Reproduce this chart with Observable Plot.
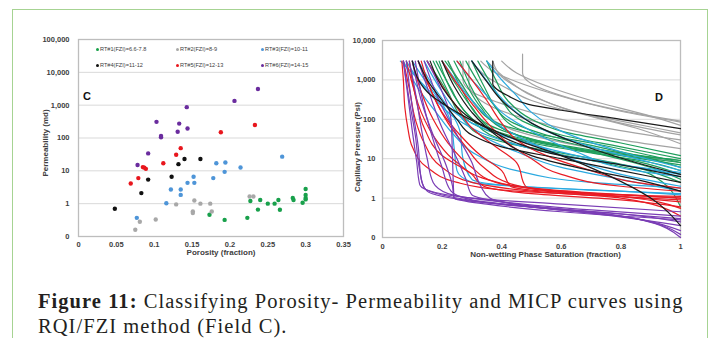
<!DOCTYPE html>
<html><head><meta charset="utf-8">
<script src="https://cdn.jsdelivr.net/npm/d3@7"></script>
<script src="https://cdn.jsdelivr.net/npm/@observablehq/plot@0.6"></script>
<style>
html,body{margin:0;padding:0;background:#fff;}
#wrap{position:relative;width:715px;height:338px;overflow:hidden;font-family:"Liberation Sans",Arial,sans-serif;}
#border{position:absolute;left:12px;top:9px;width:696px;height:400px;border:1.5px solid #a6d392;box-sizing:border-box;}
#left{position:absolute;left:0;top:0;}
#right{position:absolute;left:345px;top:0;}
.legend{position:absolute;left:96px;top:46px;display:grid;grid-template-columns:80px 85px 80px;row-gap:9px;font-size:5.6px;line-height:7px;color:#404040;white-space:nowrap;}
.legend .dot{display:inline-block;width:3px;height:3px;border-radius:50%;margin-right:1px;vertical-align:0.5px;}
.panel{position:absolute;font-weight:bold;font-size:11px;line-height:11px;color:#111;}
#caption{position:absolute;left:38px;top:289px;width:690px;font-family:"Liberation Serif","Times New Roman",serif;font-size:20.5px;line-height:25px;letter-spacing:1.05px;color:#231f20;white-space:nowrap;}
</style></head>
<body>
<div id="wrap">
  <div id="border"></div>
  <div id="left"></div>
  <div id="right"></div>
  <div class="legend" id="legend"></div>
  <div class="panel" style="left:83px;top:91px;">C</div>
  <div class="panel" style="left:655px;top:92px;">D</div>
  <div id="caption"><b>Figure 11:</b> Classifying Porosity- Permeability and MICP curves using<br>RQI/FZI method (Field C).</div>
</div>
<script>
// ---------- Categories / legend ----------
const rockTypes = ["RT1", "RT2", "RT3", "RT4", "RT5", "RT6"];
const legendLabels = ["RT#1(FZI)=6.6-7.8", "RT#2(FZI)=8-9", "RT#3(FZI)=10-11", "RT#4(FZI)=11-12", "RT#5(FZI)=12-13", "RT#6(FZI)=14-15"];
const dotColors = ["#18a04b", "#a8a8a8", "#4e95d8", "#111111", "#e8161d", "#6a2c9e"];
const lineColors = ["#1f9e5c", "#a3a3a3", "#2aa9e0", "#1a1a1a", "#e81c24", "#7a3db5"];

// ---------- Panel C: porosity (fraction), permeability (md) ----------
const rt1Points = [[0.300,2.8],[0.300,1.85],[0.300,1.5],[0.300,1.35],[0.296,1.07],[0.283,1.5],[0.284,1.3],[0.264,1.3],[0.259,1.0],[0.250,1.0],[0.266,0.65],[0.240,1.3],[0.237,0.66],[0.227,1.2],[0.223,0.37],[0.193,0.32],[0.173,0.46]];
const rt2Points = [[0.226,1.65],[0.231,1.65],[0.153,1.25],[0.129,0.95],[0.161,1.0],[0.174,1.0],[0.176,0.58],[0.151,0.58],[0.151,0.52],[0.102,0.33],[0.081,0.28],[0.075,0.16]];
const rt3Points = [[0.269,27],[0.182,17],[0.194,18],[0.214,12.6],[0.193,9.3],[0.178,6.0],[0.152,6.6],[0.144,4.3],[0.153,4.3],[0.122,2.7],[0.135,2.7],[0.135,1.85],[0.116,1.03],[0.077,0.37]];
const rt4Points = [[0.140,23],[0.161,23],[0.132,16],[0.123,6.6],[0.092,5.4],[0.083,2.1],[0.048,0.70]];
const rt5Points = [[0.233,250],[0.188,150],[0.135,49],[0.129,31],[0.112,17],[0.085,13],[0.087,12.5],[0.089,11.5],[0.079,6.0],[0.069,4.1]];
const rt6Points = [[0.237,3100],[0.206,1350],[0.143,870],[0.103,310],[0.133,275],[0.131,155],[0.144,195],[0.109,115],[0.109,105],[0.092,34],[0.078,15]];

const porTicks = [0, 0.05, 0.1, 0.15, 0.2, 0.25, 0.3, 0.35];
const porTickLabels = ["0", "0.05", "0.1", "0.15", "0.2", "0.25", "0.3", "0.35"];
const permTicks = [0.1, 1, 10, 100, 1000, 10000, 100000];
const permTickLabels = ["0", "1", "10", "100", "1,000", "10,000", "100,000"];

// ---------- Panel D: MICP curves [Sw non-wetting, Pc psi] ----------
const rt2Curves = [
  [[0.33,3000],[0.38,1500],[0.45,900],[0.55,500],[0.65,300],[0.8,160],[1,85]],
  [[0.30,3000],[0.35,1200],[0.42,600],[0.5,300],[0.6,180],[0.8,90],[1,45]],
  [[0.47,4500],[0.47,1500],[0.5,800],[0.6,400],[0.75,200],[0.9,120],[1,90]],
  [[0.27,3000],[0.27,1000],[0.3,500],[0.4,250],[0.55,120],[0.75,60],[1,30]],
  [[0.37,3000],[0.4,1200],[0.48,500],[0.6,200],[0.8,80],[1,40]],
  [[0.29,3000],[0.29,800],[0.33,300],[0.45,120],[0.6,60],[0.8,30],[1,18]],
  [[0.35,3000],[0.42,1000],[0.5,400],[0.65,150],[0.85,60],[1,24]],
  [[0.40,3000],[0.45,1500],[0.55,700],[0.7,300],[0.9,120],[1,70]],
  [[0.22,3000],[0.28,500],[0.35,120],[0.45,50],[0.65,22],[0.85,12],[1,8]]
];
const rt1Curves = [
  [[0.15,3000],[0.2,800],[0.25,200],[0.3,80],[0.4,40],[0.6,20],[0.8,12],[1,7]],
  [[0.18,3000],[0.23,600],[0.28,150],[0.35,60],[0.45,35],[0.65,18],[0.85,11],[1,8]],
  [[0.20,3000],[0.25,700],[0.3,200],[0.36,70],[0.45,40],[0.6,22],[0.8,13],[1,9]],
  [[0.22,3000],[0.27,500],[0.32,120],[0.38,50],[0.5,25],[0.7,14],[0.9,8],[1,5]],
  [[0.24,3000],[0.28,800],[0.33,200],[0.4,60],[0.5,30],[0.7,15],[0.9,7],[1,4]],
  [[0.26,3000],[0.3,600],[0.35,150],[0.42,50],[0.55,25],[0.75,12],[0.9,6],[1,3]],
  [[0.28,3000],[0.32,900],[0.37,250],[0.44,80],[0.55,40],[0.75,18],[0.9,10],[1,6]],
  [[0.17,3000],[0.22,500],[0.27,100],[0.33,40],[0.45,22],[0.65,12],[0.85,6],[1,2.5]],
  [[0.30,3000],[0.34,700],[0.38,200],[0.45,60],[0.6,28],[0.8,14],[1,9]],
  [[0.32,3000],[0.36,900],[0.4,300],[0.47,90],[0.6,40],[0.8,20],[1,10]],
  [[0.21,3000],[0.26,900],[0.31,250],[0.37,90],[0.5,45],[0.7,25],[0.9,12],[1,8]],
  [[0.19,3000],[0.24,400],[0.3,100],[0.38,35],[0.5,18],[0.7,9],[0.9,4],[1,0.6]],
  [[0.35,3000],[0.38,1000],[0.42,300],[0.5,100],[0.6,50],[0.8,25],[1,12]]
];
const rt3Curves = [
  [[0.06,3000],[0.1,1500],[0.15,600],[0.22,200],[0.3,80],[0.45,30],[0.65,12],[0.85,6],[1,4]],
  [[0.08,3000],[0.12,1000],[0.18,300],[0.25,100],[0.35,40],[0.5,18],[0.7,9],[1,4.5]],
  [[0.10,3000],[0.15,800],[0.2,250],[0.23,80],[0.24,20],[0.25,5],[0.3,2.5],[0.5,1.9],[0.8,1.5],[1,1.2]],
  [[0.12,3000],[0.17,700],[0.22,200],[0.26,50],[0.27,10],[0.3,3],[0.45,2],[0.7,1.6],[1,1.3]],
  [[0.20,3000],[0.25,900],[0.3,300],[0.38,80],[0.5,25],[0.65,9],[0.8,4],[1,2]],
  [[0.25,3000],[0.3,1000],[0.35,400],[0.4,150],[0.5,50],[0.65,15],[0.85,5],[1,3.5]],
  [[0.14,3000],[0.2,500],[0.26,120],[0.33,40],[0.45,15],[0.6,6],[0.8,3],[1,1.5]],
  [[0.30,3000],[0.33,1500],[0.38,500],[0.45,150],[0.55,50],[0.7,20],[0.9,8],[1,5]],
  [[0.07,3000],[0.12,600],[0.18,150],[0.24,40],[0.32,12],[0.45,5],[0.7,2.5],[1,1.8]],
  [[0.35,3000],[0.4,1000],[0.45,400],[0.5,150],[0.6,50],[0.8,15],[1,6]]
];
const rt5Curves = [
  [[0.065,3000],[0.07,1000],[0.075,200],[0.085,60],[0.1,20],[0.15,6],[0.25,2.5],[0.45,1.5],[0.7,1.2],[1,0.9]],
  [[0.08,3000],[0.1,800],[0.13,150],[0.18,30],[0.25,8],[0.35,3],[0.5,1.8],[0.75,1.3],[1,1.0]],
  [[0.10,3000],[0.13,500],[0.17,100],[0.22,25],[0.3,6],[0.38,2.5],[0.55,1.6],[0.8,1.1],[1,0.8]],
  [[0.12,3000],[0.16,600],[0.2,150],[0.26,40],[0.33,12],[0.4,5],[0.43,2],[0.5,1.6],[0.75,1.2],[1,0.55]],
  [[0.15,3000],[0.2,700],[0.25,200],[0.3,60],[0.38,20],[0.45,8],[0.48,2],[0.6,1.5],[1,1.0]],
  [[0.20,3000],[0.25,800],[0.3,250],[0.36,70],[0.42,25],[0.5,10],[0.6,4],[0.8,2],[1,1.5]],
  [[0.09,3000],[0.11,400],[0.14,60],[0.2,12],[0.3,4],[0.34,2],[0.5,1.3],[0.8,0.9],[1,0.6]],
  [[0.25,3000],[0.3,1000],[0.35,300],[0.4,80],[0.45,30],[0.55,12],[0.7,5],[0.85,2.5],[1,1.8]],
  [[0.07,3000],[0.09,600],[0.11,100],[0.14,25],[0.2,6],[0.3,2.5],[0.5,1.5],[0.8,1.0],[1,0.35]],
  [[0.13,3000],[0.17,400],[0.22,80],[0.28,20],[0.34,6],[0.44,2.2],[0.6,1.4],[1,1.1]]
];
const rt6Curves = [
  [[0.07,3000],[0.09,300],[0.11,40],[0.125,5],[0.14,1.8],[0.2,1.2],[0.4,0.7],[0.7,0.45],[1,0.3]],
  [[0.08,3000],[0.10,200],[0.12,20],[0.13,3],[0.15,1.5],[0.25,0.95],[0.5,0.6],[0.8,0.4],[1,0.25]],
  [[0.09,3000],[0.11,500],[0.13,60],[0.15,10],[0.17,2.5],[0.22,1.3],[0.4,0.8],[0.7,0.5],[1,0.35]],
  [[0.10,3000],[0.13,300],[0.17,40],[0.21,8],[0.235,2],[0.24,1.0],[0.35,0.75],[0.6,0.5],[1,0.2]],
  [[0.12,3000],[0.16,400],[0.2,60],[0.25,10],[0.28,3],[0.3,1.2],[0.45,0.7],[0.75,0.4],[1,0.15]],
  [[0.14,3000],[0.19,300],[0.25,40],[0.3,8],[0.33,2],[0.36,1],[0.5,0.6],[0.8,0.35],[1,0.12]],
  [[0.07,3000],[0.085,400],[0.1,50],[0.115,8],[0.125,2.2],[0.15,1.6],[0.3,1.0],[0.6,0.7],[1,0.45]],
  [[0.11,3000],[0.14,200],[0.17,30],[0.2,6],[0.23,1.5],[0.3,0.9],[0.55,0.55],[0.85,0.3],[1,0.1]],
  [[0.15,3000],[0.2,500],[0.23,100],[0.235,10],[0.24,1.0],[0.35,0.7],[0.6,0.45],[1,0.28]]
];
const rt4Curves = [
  [[0.37,3000],[0.37,800],[0.42,400],[0.49,240],[0.6,170],[0.8,100],[1,58]],
  [[0.10,3000],[0.15,500],[0.25,150],[0.35,60],[0.45,25],[0.6,12],[0.8,7],[1,3.5]],
  [[0.20,3000],[0.24,700],[0.3,150],[0.38,40],[0.5,12],[0.7,5],[0.85,3],[1,1.5]],
  [[0.30,3000],[0.35,900],[0.4,300],[0.5,80],[0.65,25],[0.85,8],[1,4]],
  [[0.16,3000],[0.22,400],[0.3,100],[0.45,30],[0.6,12],[0.75,4],[0.9,1],[1,0.2]],
  [[0.12,3000],[0.15,1000],[0.2,300],[0.25,100],[0.3,40],[0.4,20],[0.6,10],[0.8,5],[1,2.5]]
];

const satTicks = [0, 0.2, 0.4, 0.6, 0.8, 1];
const satTickLabels = ["0", "0.2", "0.4", "0.6", "0.8", "1"];
const pcTicks = [0.1, 1, 10, 100, 1000, 10000];
const pcTickLabels = ["0", "1", "10", "100", "1,000", "10,000"];

// ---------- Build tables ----------
const pointSets = [rt1Points, rt2Points, rt3Points, rt4Points, rt5Points, rt6Points];
const scatter = pointSets.flatMap((pts, k) => pts.map(([por, perm]) => ({rt: rockTypes[k], por, perm, color: dotColors[k]})));

const curveOrder = [[1, rt2Curves], [0, rt1Curves], [2, rt3Curves], [4, rt5Curves], [5, rt6Curves], [3, rt4Curves]];
const curves = curveOrder.flatMap(([k, set]) => set.flatMap((c, j) => c.map(([sw, pc]) => ({id: rockTypes[k] + "-" + j, sw, pc, color: lineColors[k]}))));

const axisStyle = {fontSize: "7.5px", fontFamily: "Liberation Sans, Arial, sans-serif", fontWeight: "bold", color: "#404040", background: "transparent", overflow: "visible"};
const lab = (ticks, labels) => d => labels[ticks.findIndex(t => Math.abs(t - d) < 1e-9)];

const left = Plot.plot({
  width: 350, height: 266,
  marginLeft: 78, marginRight: 7, marginTop: 39, marginBottom: 30,
  style: axisStyle,
  color: {type: "identity"},
  x: {domain: [0, 0.35]},
  y: {type: "log", domain: [0.1, 100000]},
  marks: [
    Plot.ruleY(permTicks, {stroke: "#d9d9d9", strokeWidth: 1}),
    Plot.frame({stroke: "#bdbdbd", strokeWidth: 1.3}),
    Plot.axisX({ticks: porTicks, tickFormat: lab(porTicks, porTickLabels), tickSize: 0, tickPadding: 5, label: null}),
    Plot.axisY({ticks: permTicks, tickFormat: lab(permTicks, permTickLabels), tickSize: 0, tickPadding: 9, label: null}),
    Plot.dot(scatter, {x: "por", y: "perm", fill: "color", r: 2.2, stroke: null}),
    Plot.text(["Porosity (fraction)"], {text: d => d, frameAnchor: "bottom", textAnchor: "middle", dy: 18, dx: 10, fontSize: 8, fontWeight: "bold", fill: "#404040"}),
    Plot.text(["Permeability (md)"], {text: d => d, frameAnchor: "left", textAnchor: "middle", rotate: -90, dx: -33, dy: 5, fontSize: 8, fontWeight: "bold", fill: "#404040"})
  ]
});
document.getElementById("left").appendChild(left);

const right = Plot.plot({
  width: 345, height: 270,
  marginLeft: 37, marginRight: 10, marginTop: 40, marginBottom: 33,
  style: axisStyle,
  color: {type: "identity"},
  x: {domain: [0, 1]},
  y: {type: "log", domain: [0.1, 10000]},
  marks: [
    Plot.ruleY(pcTicks, {stroke: "#d9d9d9", strokeWidth: 1}),
    Plot.frame({stroke: "#bdbdbd", strokeWidth: 1.3}),
    Plot.line(curves, {x: "sw", y: "pc", z: "id", stroke: "color", strokeWidth: 1.2, curve: "monotone-y"}),
    Plot.axisX({ticks: satTicks, tickFormat: lab(satTicks, satTickLabels), tickSize: 0, tickPadding: 6, label: null}),
    Plot.axisY({ticks: pcTicks, tickFormat: lab(pcTicks, pcTickLabels), tickSize: 0, tickPadding: 7, label: null}),
    Plot.text(["Non-wetting Phase Saturation (fraction)"], {text: d => d, frameAnchor: "bottom", textAnchor: "middle", dy: 19, dx: 14, fontSize: 8, fontWeight: "bold", fill: "#404040"}),
    Plot.text(["Capillary Pressure (Psi)"], {text: d => d, frameAnchor: "left", textAnchor: "middle", rotate: -90, dx: -25, dy: 8, fontSize: 8, fontWeight: "bold", fill: "#404040"})
  ]
});
document.getElementById("right").appendChild(right);

// ---------- Legend ----------
const legend = document.getElementById("legend");
legendLabels.forEach((t, k) => {
  const item = document.createElement("div");
  const dot = document.createElement("span");
  dot.className = "dot";
  dot.style.background = dotColors[k];
  item.appendChild(dot);
  item.appendChild(document.createTextNode(t));
  legend.appendChild(item);
});
</script>
</body></html>
